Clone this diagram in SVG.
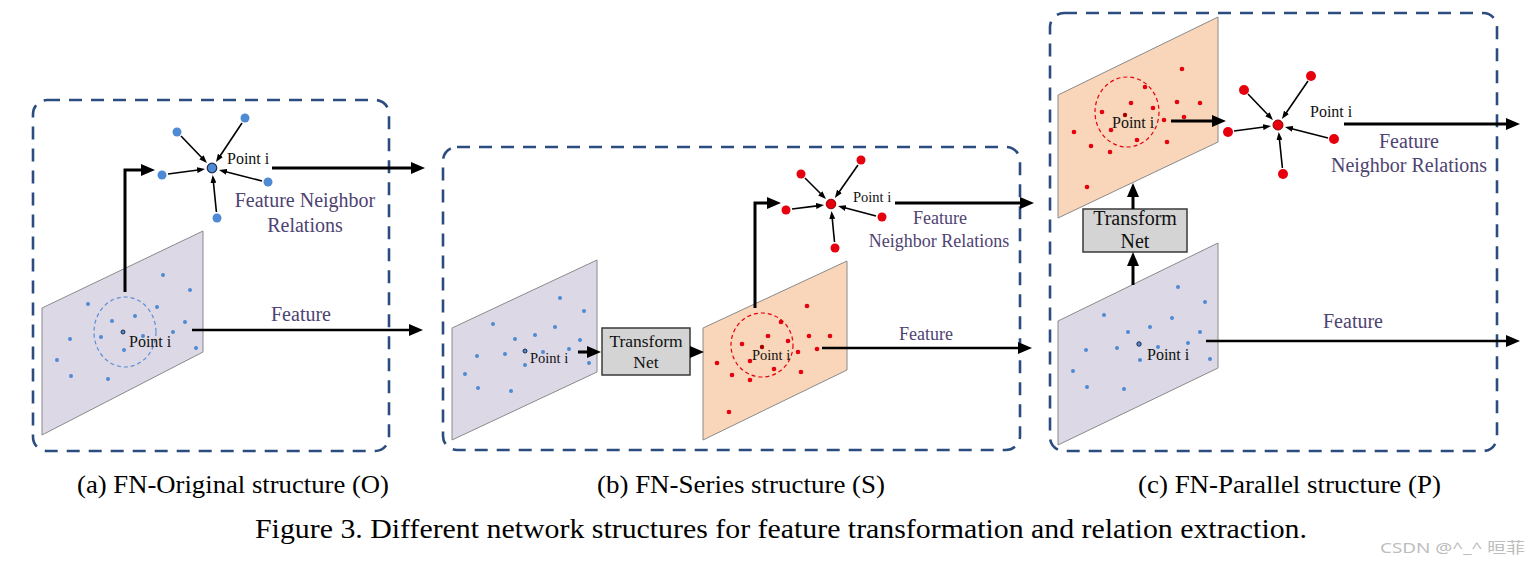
<svg xmlns="http://www.w3.org/2000/svg" width="1540" height="568" viewBox="0 0 1540 568">
<style>
.panel{fill:none;stroke:#2b4c7e;stroke-width:2.6;stroke-dasharray:13 9}
.lav{fill:#dcd8e6;stroke:#8a8a8a;stroke-width:1}
.peach{fill:#f9d6b9;stroke:#8a8a8a;stroke-width:1}
.bd{fill:#4f8ad4}
.rd{fill:#e6000d}
.cb{fill:none;stroke:#5b8fd6;stroke-width:1.2;stroke-dasharray:4 3}
.cr{fill:none;stroke:#e6000d;stroke-width:1.2;stroke-dasharray:4 3}
.t{font-family:"Liberation Serif","Times New Roman",serif;fill:#111}
.p{font-family:"Liberation Serif","Times New Roman",serif;fill:#4e4372}
.box{fill:#d4d4d4;stroke:#3a3a3a;stroke-width:1.5}
.thick{fill:none;stroke:#000;stroke-width:3;marker-end:url(#ah)}
.mid{fill:none;stroke:#000;stroke-width:2.4;marker-end:url(#ah)}
.thin{fill:none;stroke:#000;stroke-width:1.6;marker-end:url(#as)}
.cap{font-family:"Liberation Serif","Times New Roman",serif;fill:#000}
</style>
<defs>
<marker id="ah" markerUnits="userSpaceOnUse" markerWidth="14" markerHeight="12" refX="1" refY="6" orient="auto" viewBox="0 0 14 12"><path d="M0,0 L14,6 L0,12 z" fill="#000"/></marker>
<marker id="as" markerUnits="userSpaceOnUse" markerWidth="8" markerHeight="6" refX="1" refY="3" orient="auto" viewBox="0 0 8 6"><path d="M0,0 L8,3 L0,6 z" fill="#000"/></marker>
</defs>
<rect width="1540" height="568" fill="#fff"/>

<!-- Panel (a) -->
<g id="panel-a"><rect class="panel" x="33" y="100" width="356" height="351" rx="14"/></g>
<g id="plane-a">
<polygon class="lav" points="42,308 203,231 203,352 42,435"/>
<ellipse class="cb" cx="125" cy="332" rx="31" ry="35"/>
<g class="bd">
<circle cx="163" cy="275" r="2"/><circle cx="190" cy="290" r="2"/><circle cx="88" cy="304" r="2"/><circle cx="157" cy="307" r="2"/><circle cx="135" cy="316" r="2"/><circle cx="112" cy="321" r="2"/><circle cx="185" cy="322" r="2"/><circle cx="101" cy="337" r="2"/><circle cx="143" cy="336" r="2"/><circle cx="173" cy="332" r="2"/><circle cx="70" cy="339" r="2"/><circle cx="124" cy="350" r="2"/><circle cx="196" cy="348" r="2"/><circle cx="57" cy="360" r="2"/><circle cx="71" cy="376" r="2"/><circle cx="108" cy="379" r="2"/>
</g>
<circle cx="123" cy="332" r="2" fill="#4f8ad4" stroke="#1d2c4a" stroke-width="1"/>
<text class="t" x="129" y="347" font-size="16">Point i</text>
</g>
<g id="star-a">
<g class="bd"><circle cx="177" cy="132" r="4.5"/><circle cx="245" cy="118" r="4.5"/><circle cx="162" cy="175" r="4.5"/><circle cx="268" cy="182" r="4.5"/><circle cx="217" cy="218" r="4.5"/></g>
<circle cx="212" cy="168" r="4.8" fill="#4f8ad4" stroke="#1d2c4a" stroke-width="1.2"/>
<text class="t" x="227" y="164" font-size="16">Point i</text>
<text class="p" x="305" y="207" font-size="20" text-anchor="middle">Feature Neighbor</text>
<text class="p" x="305" y="232" font-size="20" text-anchor="middle">Relations</text>
</g>
<text class="p" x="301" y="321" font-size="20" text-anchor="middle">Feature</text>

<!-- Panel (b) -->
<g id="panel-b"><rect class="panel" x="443" y="147" width="577" height="303" rx="14"/></g>
<g id="plane-b1">
<polygon class="lav" points="452,328 597,260 597,372 452,440"/>
<g class="bd">
<circle cx="560" cy="298" r="2"/><circle cx="584" cy="311" r="2"/><circle cx="493" cy="324" r="2"/><circle cx="555" cy="327" r="2"/><circle cx="535" cy="335" r="2"/><circle cx="515" cy="339" r="2"/><circle cx="580" cy="340" r="2"/><circle cx="569" cy="349" r="2"/><circle cx="477" cy="356" r="2"/><circle cx="505" cy="354" r="2"/><circle cx="543" cy="352" r="2"/><circle cx="525" cy="365" r="2"/><circle cx="589" cy="363" r="2"/><circle cx="465" cy="374" r="2"/><circle cx="478" cy="388" r="2"/><circle cx="511" cy="391" r="2"/>
</g>
<circle cx="525" cy="351" r="2" fill="#4f8ad4" stroke="#1d2c4a" stroke-width="1"/>
<text class="t" x="530" y="363" font-size="14.5">Point i</text>
</g>
<g id="transform-b">
<rect class="box" x="602" y="328" width="88" height="47"/>
<text class="t" x="646" y="347" font-size="17.5" text-anchor="middle">Transform</text>
<text class="t" x="646" y="368" font-size="17.5" text-anchor="middle">Net</text>
</g>
<g id="plane-b2">
<polygon class="peach" points="703,328 847,261 847,370 703,440"/>
<ellipse class="cr" cx="762" cy="345" rx="31" ry="32"/>
<g class="rd">
<circle cx="807" cy="306" r="2.3"/><circle cx="781" cy="322" r="2.3"/><circle cx="768" cy="336" r="2.3"/><circle cx="788" cy="341" r="2.3"/><circle cx="742" cy="344" r="2.3"/><circle cx="809" cy="336" r="2.3"/><circle cx="830" cy="336" r="2.3"/><circle cx="798" cy="352" r="2.3"/><circle cx="817" cy="349" r="2.3"/><circle cx="750" cy="361" r="2.3"/><circle cx="717" cy="363" r="2.3"/><circle cx="774" cy="369" r="2.3"/><circle cx="801" cy="372" r="2.3"/><circle cx="732" cy="375" r="2.3"/><circle cx="750" cy="380" r="2.3"/><circle cx="729" cy="412" r="2.3"/>
</g>
<circle cx="762" cy="347" r="2.2" fill="#a00000"/>
<text class="t" x="752" y="360" font-size="14.5">Point i</text>
</g>
<g id="star-b">
<g class="rd"><circle cx="801" cy="174" r="4.5"/><circle cx="861" cy="160" r="4.5"/><circle cx="786" cy="210" r="4.5"/><circle cx="882" cy="217" r="4.5"/><circle cx="835" cy="248" r="4.5"/></g>
<circle cx="831" cy="204" r="4.8" fill="#e6000d" stroke="#8b0000" stroke-width="1"/>
<text class="t" x="853" y="202" font-size="14.5">Point i</text>
<text class="p" x="940" y="224" font-size="18" text-anchor="middle">Feature</text>
<text class="p" x="939" y="247" font-size="18" text-anchor="middle">Neighbor Relations</text>
</g>
<text class="p" x="926" y="340" font-size="18" text-anchor="middle">Feature</text>

<!-- Panel (c) -->
<g id="panel-c"><rect class="panel" x="1050" y="13" width="447" height="438" rx="14"/></g>
<g id="plane-c-peach">
<polygon class="peach" points="1058,95 1218,17 1218,142 1058,218"/>
<ellipse class="cr" cx="1127" cy="112" rx="32" ry="35"/>
<g class="rd">
<circle cx="1182" cy="69" r="2.3"/><circle cx="1145" cy="87" r="2.3"/><circle cx="1131" cy="103" r="2.3"/><circle cx="1177" cy="102" r="2.3"/><circle cx="1200" cy="103" r="2.3"/><circle cx="1102" cy="112" r="2.3"/><circle cx="1153" cy="108" r="2.3"/><circle cx="1164" cy="120" r="2.3"/><circle cx="1184" cy="117" r="2.3"/><circle cx="1074" cy="132" r="2.3"/><circle cx="1111" cy="130" r="2.3"/><circle cx="1137" cy="140" r="2.3"/><circle cx="1167" cy="142" r="2.3"/><circle cx="1091" cy="146" r="2.3"/><circle cx="1110" cy="152" r="2.3"/><circle cx="1087" cy="187" r="2.3"/>
</g>
<circle cx="1125" cy="115" r="2.2" fill="#a00000"/>
<text class="t" x="1112" y="128" font-size="16">Point i</text>
</g>
<g id="transform-c">
<rect class="box" x="1083" y="209" width="104" height="43"/>
<text class="t" x="1135" y="225" font-size="20" text-anchor="middle">Transform</text>
<text class="t" x="1135" y="248" font-size="20" text-anchor="middle">Net</text>
</g>
<g id="plane-c-lav">
<polygon class="lav" points="1058,321 1218,243 1218,368 1058,445"/>
<g class="bd">
<circle cx="1178" cy="287" r="2"/><circle cx="1205" cy="302" r="2"/><circle cx="1104" cy="315" r="2"/><circle cx="1172" cy="318" r="2"/><circle cx="1150" cy="327" r="2"/><circle cx="1128" cy="332" r="2"/><circle cx="1200" cy="332" r="2"/><circle cx="1117" cy="348" r="2"/><circle cx="1158" cy="347" r="2"/><circle cx="1188" cy="343" r="2"/><circle cx="1086" cy="350" r="2"/><circle cx="1140" cy="360" r="2"/><circle cx="1210" cy="359" r="2"/><circle cx="1073" cy="371" r="2"/><circle cx="1087" cy="387" r="2"/><circle cx="1124" cy="389" r="2"/>
</g>
<circle cx="1139" cy="344" r="2.2" fill="#4f8ad4" stroke="#1d2c4a" stroke-width="1"/>
<text class="t" x="1147" y="360" font-size="16">Point i</text>
</g>
<g id="star-c">
<g class="rd"><circle cx="1244" cy="90" r="5"/><circle cx="1311" cy="76" r="5"/><circle cx="1228" cy="132" r="5"/><circle cx="1334" cy="139" r="5"/><circle cx="1283" cy="174" r="5"/></g>
<circle cx="1278" cy="125" r="5" fill="#e6000d" stroke="#8b0000" stroke-width="1"/>
<text class="t" x="1310" y="117" font-size="16">Point i</text>
<text class="p" x="1409" y="148" font-size="20" text-anchor="middle">Feature</text>
<text class="p" x="1409" y="172" font-size="20" text-anchor="middle">Neighbor Relations</text>
</g>
<text class="p" x="1353" y="328" font-size="20" text-anchor="middle">Feature</text>

<!-- Connectors -->
<g id="connectors">
<path class="thick" d="M125,292 V170 H142"/>
<path class="thick" d="M272,168 H412"/>
<path class="mid" d="M192,330 H410"/>
<path class="thin" d="M181,136 L202.1,158"/>
<path class="thin" d="M242,123 L219.9,156.2"/>
<path class="thin" d="M168,174 L198.1,170"/>
<path class="thin" d="M262,181 L225.8,171.7"/>
<path class="thin" d="M216.4,212 L213.4,182"/>

<path class="thick" d="M578,352 H588"/>
<path class="thick" d="M690,352 H691"/>
<path class="thick" d="M755,308 V203 H768"/>
<path class="thick" d="M895,203 H1021"/>
<path class="mid" d="M822,348 H1019"/>
<path class="thin" d="M805,178 L821,194"/>
<path class="thin" d="M858,165 L838.9,192.2"/>
<path class="thin" d="M792,209 L817.1,205.9"/>
<path class="thin" d="M876,216 L844.8,207.8"/>
<path class="thin" d="M834.5,242 L832.2,218"/>

<path class="thick" d="M1171,121 H1213"/>
<path class="thick" d="M1133,285 V265"/>
<path class="thick" d="M1133,209 V196"/>
<path class="thick" d="M1344,124 H1507"/>
<path class="mid" d="M1206,341 H1507"/>
<path class="thin" d="M1248,94 L1268.1,115"/>
<path class="thin" d="M1308,81 L1285.9,113.2"/>
<path class="thin" d="M1234,131 L1264.1,127"/>
<path class="thin" d="M1328,138 L1291.8,128.7"/>
<path class="thin" d="M1282.4,168 L1279.4,139"/>
</g>

<!-- Captions -->
<text class="cap" x="77" y="493" font-size="25" textLength="312" lengthAdjust="spacingAndGlyphs">(a)  FN-Original structure (O)</text>
<text class="cap" x="597" y="493" font-size="25" textLength="288" lengthAdjust="spacingAndGlyphs">(b)  FN-Series structure (S)</text>
<text class="cap" x="1138" y="493" font-size="25" textLength="303" lengthAdjust="spacingAndGlyphs">(c)  FN-Parallel structure (P)</text>
<text class="cap" x="255" y="538" font-size="27" textLength="1052" lengthAdjust="spacingAndGlyphs">Figure 3. Different network structures for feature transformation and relation extraction.</text>
<text x="1380" y="553" font-size="15" fill="#bdbdbd" font-family="'Noto Sans','Noto Sans CJK SC',sans-serif" textLength="145" lengthAdjust="spacingAndGlyphs">CSDN @^_^ 晅菲</text>
</svg>
